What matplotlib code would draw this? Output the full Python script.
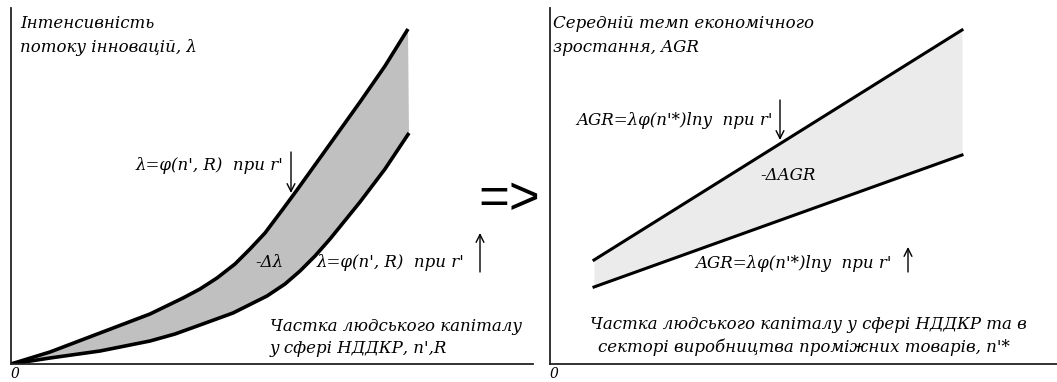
import numpy as np
import matplotlib
matplotlib.use("Agg")
import matplotlib.pyplot as plt
from matplotlib.patches import FancyArrowPatch

W, H = 1057, 382

# left panel: innovation intensity curves (units = pixels from origin)
lam_up_x = np.array([0, 39, 89, 139, 172, 189, 206, 224, 239, 254, 272, 286, 319, 349, 374, 397])
lam_up_y = np.array([0, 12, 31, 50, 66, 75, 86, 100, 115, 131, 155, 174, 220, 262, 298, 335])
lam_lo_x = np.array([0, 39, 89, 139, 164, 189, 222, 256, 274, 289, 304, 319, 349, 374, 398])
lam_lo_y = np.array([0, 6, 13, 23, 30, 39, 51, 68, 80, 93, 108, 125, 162, 195, 231])

# right panel: average growth rate lines
agr_x = np.array([44, 412])
agr_up = np.array([104, 334])
agr_lo = np.array([77, 209])

fs = 12
font = dict(family="DejaVu Serif", style="italic", fontsize=fs, color="black")

fig = plt.figure(figsize=(W / 100, H / 100), dpi=100)


def fx(x):
    return x / W


def fy(y):
    return 1 - y / H


def make_axes(x0, x1, y0, y1):
    ax = fig.add_axes([fx(x0), fy(y1), (x1 - x0) / W, (y1 - y0) / H])
    ax.set_xlim(0, x1 - x0)
    ax.set_ylim(0, y1 - y0)
    for s in ["top", "right"]:
        ax.spines[s].set_visible(False)
    for s in ["left", "bottom"]:
        ax.spines[s].set_linewidth(1.3)
        ax.spines[s].set_color("#222222")
    ax.set_xticks([])
    ax.set_yticks([])
    ax.patch.set_alpha(0)
    return ax


# ---- left panel
ax1 = make_axes(11, 533, 8, 364)
poly_x = np.concatenate([lam_up_x, lam_lo_x[::-1]])
poly_y = np.concatenate([lam_up_y, lam_lo_y[::-1]])
ax1.fill(poly_x, poly_y, color="#c0c0c0", lw=0)
ax1.plot(lam_up_x, lam_up_y, color="black", lw=2.6, solid_capstyle="butt", solid_joinstyle="round")
ax1.plot(lam_lo_x, lam_lo_y, color="black", lw=2.6, solid_capstyle="butt", solid_joinstyle="round")

# ---- right panel
ax2 = make_axes(550, 1057, 8, 364)
ax2.fill_between(agr_x, agr_lo, agr_up, color="#ebebeb", lw=0)
ax2.plot(agr_x, agr_up, color="black", lw=2.2)
ax2.plot(agr_x, agr_lo, color="black", lw=2.2)

# ---- texts
fig.text(fx(20), fy(28), "Інтенсивність", va="baseline", **font)
fig.text(fx(20), fy(52), "потоку інновацій, λ", va="baseline", **font)
fig.text(fx(283), fy(170), "λ=φ(n', R)  при r'", ha="right", va="baseline", **font)
fig.text(fx(255), fy(267), "-Δλ", va="baseline", **font)
fig.text(fx(317), fy(267), "λ=φ(n', R)  при r'", va="baseline", **font)
fig.text(fx(270), fy(331), "Частка людського капіталу", va="baseline", **font)
fig.text(fx(270), fy(353), "у сфері НДДКР, n',R", va="baseline", **font)
fig.text(fx(11), fy(378), "0", va="baseline", family="DejaVu Serif", style="italic", fontsize=10)

fig.text(fx(553), fy(28), "Середній темп економічного", va="baseline", **font)
fig.text(fx(553), fy(52), "зростання, AGR", va="baseline", **font)
fig.text(fx(773), fy(125), "AGR=λφ(n'*)lny  при r'", ha="right", va="baseline", **font)
fig.text(fx(760), fy(180), "-ΔAGR", va="baseline", **font)
fig.text(fx(695), fy(268), "AGR=λφ(n'*)lny  при r'", va="baseline", **font)
fig.text(fx(590), fy(329), "Частка людського капіталу у сфері НДДКР та в", va="baseline", **font)
fig.text(fx(598), fy(352), "секторі виробництва проміжних товарів, n'*", va="baseline", **font)
fig.text(fx(550), fy(378), "0", va="baseline", family="DejaVu Serif", style="italic", fontsize=10)

fig.text(fx(478), fy(200), "=>", family="Liberation Sans", fontsize=38, va="center")

# arrows
arrow = dict(arrowstyle="->", lw=1.0, color="black", shrinkA=0, shrinkB=0,
             transform=fig.transFigure, mutation_scale=14)
fig.add_artist(FancyArrowPatch((fx(291), fy(152)), (fx(291), fy(193)), **arrow))
fig.add_artist(FancyArrowPatch((fx(480), fy(272)), (fx(480), fy(233)), **arrow))
fig.add_artist(FancyArrowPatch((fx(780), fy(100)), (fx(780), fy(140)), **arrow))
fig.add_artist(FancyArrowPatch((fx(908), fy(272)), (fx(908), fy(247)), **arrow))

fig.savefig("out.png", dpi=100)
